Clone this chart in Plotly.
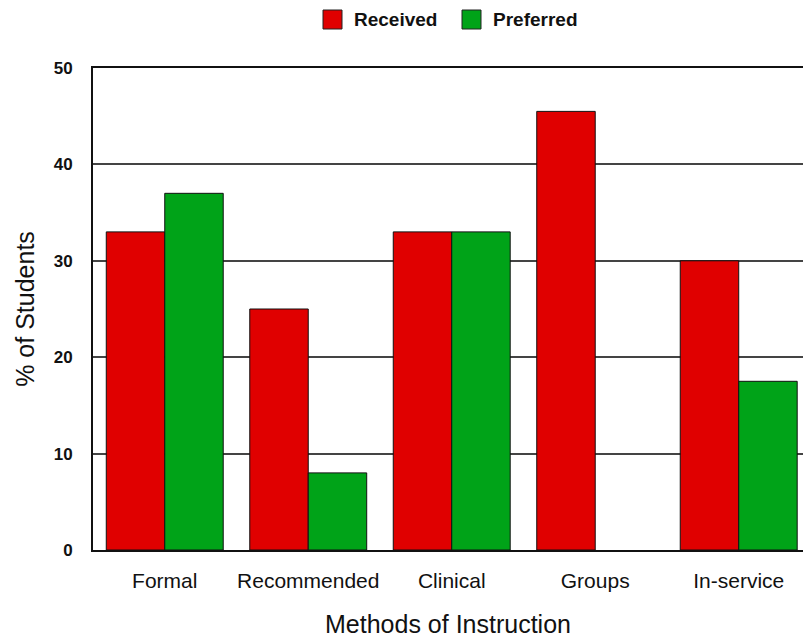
import plotly.graph_objects as go

# Survey results: share of students by method of instruction
methods = ["Formal", "Recommended", "Clinical", "Groups", "In-service"]
received = [33, 25, 33, 45.5, 30]
preferred = [37, 8, 33, 0, 17.5]
y_ticks = [0, 10, 20, 30, 40, 50]

RED = "#e00000"
GREEN = "#00a318"
FONT = "Arial, Liberation Sans, sans-serif"

W, H = 803, 643
ML, MR, MT, MB = 93, 0, 68, 93
PW, PH = W - ML - MR, H - MT - MB


def px_x(x):
    return (x - ML) / PW


def px_y(y):
    return (H - MB - y) / PH


def outline_widths(values):
    # no outline on empty bars so nothing shows at the baseline
    return [1 if v else 0 for v in values]


fig = go.Figure()
fig.add_trace(go.Bar(x=methods, y=received, name="Received",
                     marker=dict(color=RED, line=dict(color="#111", width=outline_widths(received)))))
fig.add_trace(go.Bar(x=methods, y=preferred, name="Preferred",
                     marker=dict(color=GREEN, line=dict(color="#111", width=outline_widths(preferred)))))

# Legend drawn as swatches + labels across the top
shapes, annotations = [], []
for (x0, label, color) in [(323, "Received", RED), (462, "Preferred", GREEN)]:
    shapes.append(dict(type="rect", xref="paper", yref="paper",
                       x0=px_x(x0), x1=px_x(x0 + 19), y0=px_y(29), y1=px_y(10),
                       fillcolor=color, line=dict(color="#222", width=1)))
    annotations.append(dict(xref="paper", yref="paper", x=px_x(x0 + 29), y=px_y(20),
                            text=f"<b>{label}</b>", showarrow=False,
                            xanchor="left", yanchor="middle",
                            font=dict(family=FONT, size=19, color="#111")))

fig.update_layout(
    width=W, height=H,
    margin=dict(l=ML, r=MR, t=MT, b=MB, autoexpand=False),
    plot_bgcolor="white", paper_bgcolor="white",
    barmode="group", bargap=0.185, bargroupgap=0,
    showlegend=False,
    shapes=shapes, annotations=annotations,
    font=dict(family=FONT, color="#111"),
)
fig.update_xaxes(
    range=[-0.5, 4.448], showline=True, linecolor="#111", linewidth=2,
    mirror=True, showgrid=False, ticks="", ticklabelstandoff=11,
    tickfont=dict(size=21, family=FONT, color="#111"),
    title=dict(text="Methods of Instruction", font=dict(size=25, family=FONT, color="#111"),
               standoff=24),
    automargin=False,
)
fig.update_yaxes(
    range=[0, 50], tickvals=y_ticks, showline=True, linecolor="#111", linewidth=2,
    showgrid=True, gridcolor="#444", gridwidth=1.5, zeroline=False,
    ticks="", ticklabelstandoff=15,
    tickfont=dict(size=17, family=FONT, color="#111", weight="bold"),
    title=dict(text="% of Students", font=dict(size=25, family=FONT, color="#111"),
               standoff=12),
    automargin=False,
)

fig.write_html("out.html")
